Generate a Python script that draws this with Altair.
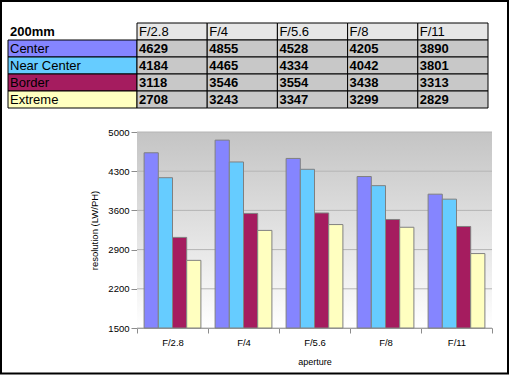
import altair as alt
import pandas as pd

# ---- data ----
apertures = ["F/2.8", "F/4", "F/5.6", "F/8", "F/11"]
series = ["Center", "Near Center", "Border", "Extreme"]
center = [4629, 4855, 4528, 4205, 3890]
near_center = [4184, 4465, 4334, 4042, 3801]
border = [3118, 3546, 3554, 3438, 3313]
extreme = [2708, 3243, 3347, 3299, 2829]
series_colors = ["#8585ff", "#66ccff", "#a51c5f", "#ffffc0"]
y_ticks = [1500, 2200, 2900, 3600, 4300, 5000]
table_title = "200mm"

FONT = "Liberation Sans"

series_values = [center, near_center, border, extreme]
records = []
for s, vals in zip(series, series_values):
    for a, v in zip(apertures, vals):
        records.append({"aperture": a, "series": s, "value": v})
bars_df = pd.DataFrame(records)

W, H = 355, 196
PAD = {"left": 137, "top": 132, "right": 18, "bottom": 47}

# ---- bar chart ----
yscale = alt.Scale(domain=[y_ticks[0], y_ticks[-1]], nice=False, zero=False)
yaxis = alt.Axis(
    title="resolution (LW/PH)", values=y_ticks, grid=False, format="d",
    labelFontSize=9.5, titleFontSize=9.5, titleFontWeight="normal",
    labelColor="black", titleColor="black",
    domainColor="#8c8c8c", tickColor="#8c8c8c", tickSize=6,
    labelPadding=2, titlePadding=8,
)
y_enc = alt.Y("value:Q", scale=yscale, axis=yaxis)

xscale = alt.Scale(domain=apertures, paddingInner=0, paddingOuter=0)
xaxis = alt.Axis(
    title="aperture", labelAngle=0, tickBand="extent",
    labelFontSize=9.5, titleFontSize=9, titleFontWeight="normal",
    labelColor="black", titleColor="black",
    domainColor="#8c8c8c", tickColor="#8c8c8c", tickSize=5,
    labelPadding=4, titlePadding=11,
)
x_enc = alt.X("aperture:N", scale=xscale, axis=xaxis, sort=apertures)

gradient = alt.LinearGradient(
    gradient="linear",
    stops=[alt.GradientStop(color="#c4c4c4", offset=0),
           alt.GradientStop(color="#ffffff", offset=1)],
    x1=0, x2=0, y1=0, y2=1,
)
bg = alt.Chart(pd.DataFrame({"value": [y_ticks[0]]})).mark_rect(color=gradient).encode(
    x=alt.value(0), x2=alt.value("width"), y=alt.value(0), y2=alt.value("height")
)
grid = alt.Chart(pd.DataFrame({"value": y_ticks})).mark_rule(color="#b4b4b4").encode(
    y=y_enc, x=alt.value(0), x2=alt.value("width")
)
bars = alt.Chart(bars_df).mark_bar(stroke="#808080", strokeWidth=1).encode(
    x=x_enc,
    xOffset=alt.XOffset("series:N", sort=series,
                        scale=alt.Scale(domain=series, paddingInner=0, paddingOuter=0.5)),
    y=y_enc,
    y2=alt.datum(y_ticks[0]),
    color=alt.Color("series:N", scale=alt.Scale(domain=series, range=series_colors), legend=None),
)
bars_part = alt.layer(bg, grid, bars)

# ---- table ----
rows = [table_title] + series
ty = alt.Y("row:N", scale=alt.Scale(domain=rows, range=[-109, -24], paddingInner=0, paddingOuter=0),
           axis=None)
lscale = alt.Scale(domain=["label"], range=[-129, 0], paddingInner=0, paddingOuter=0)

label_df = pd.DataFrame({"row": series, "col": ["label"] * len(series), "series": series})
title_df = pd.DataFrame({"row": [table_title], "col": ["label"], "text": [table_title]})

label_rect = alt.Chart(label_df).mark_rect(stroke="black", strokeWidth=1).encode(
    x=alt.X("col:N", scale=lscale, axis=None), y=ty,
    color=alt.Color("series:N", scale=alt.Scale(domain=series, range=series_colors), legend=None),
)
label_text = alt.Chart(label_df).mark_text(
    align="left", baseline="middle", dx=2, font=FONT, fontSize=13, color="black"
).encode(x=alt.X("col:N", scale=lscale, axis=None, bandPosition=0), y=ty, text="series:N")
title_text = alt.Chart(title_df).mark_text(
    align="left", baseline="middle", dx=2, font=FONT, fontSize=13, fontWeight="bold", color="black"
).encode(x=alt.X("col:N", scale=lscale, axis=None, bandPosition=0), y=ty, text="text:N")
label_part = alt.layer(label_rect, label_text, title_text)

cells = []
for a in apertures:
    cells.append({"row": table_title, "col": a, "text": a, "kind": "header"})
for s, vals in zip(series, series_values):
    for a, v in zip(apertures, vals):
        cells.append({"row": s, "col": a, "text": str(v), "kind": "value"})
cells_df = pd.DataFrame(cells)

vscale = alt.Scale(domain=apertures, range=[0, 351], paddingInner=0, paddingOuter=0)
cell_rect = alt.Chart(cells_df).mark_rect(stroke="black", strokeWidth=1).encode(
    x=alt.X("col:N", scale=vscale, axis=None), y=ty,
    color=alt.Color("kind:N", scale=alt.Scale(domain=["header", "value"], range=["#e6e6e6", "#c8c8c8"]),
                    legend=None),
)
head_text = alt.Chart(cells_df).transform_filter(alt.datum.kind == "header").mark_text(
    align="left", baseline="middle", dx=2, font=FONT, fontSize=13, color="black"
).encode(x=alt.X("col:N", scale=vscale, axis=None, bandPosition=0), y=ty, text="text:N")
val_text = alt.Chart(cells_df).transform_filter(alt.datum.kind == "value").mark_text(
    align="left", baseline="middle", dx=2, font=FONT, fontSize=13, fontWeight="bold", color="black"
).encode(x=alt.X("col:N", scale=vscale, axis=None, bandPosition=0), y=ty, text="text:N")
value_part = alt.layer(cell_rect, head_text, val_text)

# ---- outer frame ----
frame = alt.Chart(pd.DataFrame({"f": [0]})).mark_rect(
    filled=False, stroke="black", strokeWidth=2
).encode(x=alt.value(-136), x2=alt.value(371), y=alt.value(-131), y2=alt.value(241.5))

chart = alt.layer(bars_part, label_part, value_part, frame).resolve_scale(
    x="independent", y="independent", color="independent"
).properties(
    width=W, height=H, padding=PAD, autosize=alt.AutoSizeParams(type="none"), background="white"
).configure_view(stroke=None).configure_axis(labelFont=FONT, titleFont=FONT).configure_text(font=FONT)

chart.save("out.html", embed_options={"renderer": "svg", "actions": False})
